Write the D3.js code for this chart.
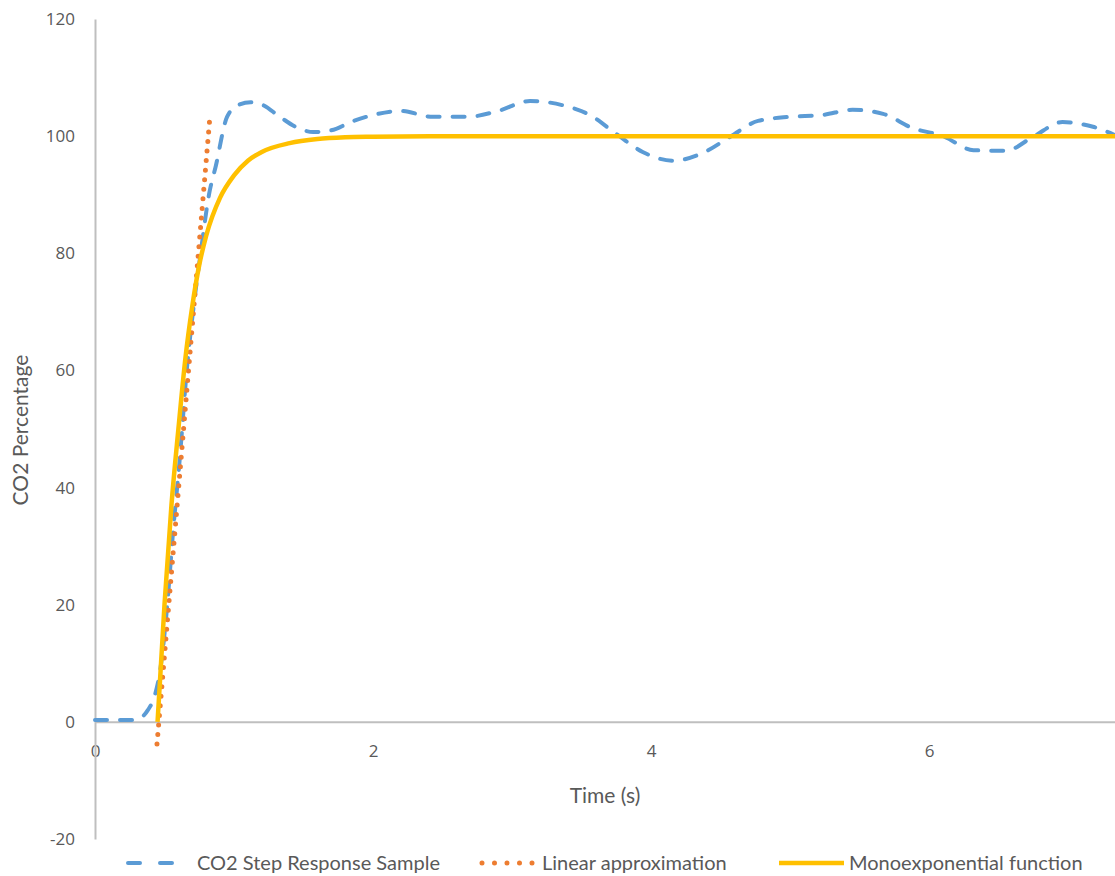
<!DOCTYPE html>
<html>
<head>
<meta charset="utf-8">
<script src="https://cdn.jsdelivr.net/npm/d3@7"></script>
<style>
  body { margin: 0; background: #fff; }
  svg { display: block; }
</style>
</head>
<body>
<script>
// measured step response (time in s, CO2 %)
let sampleTime = [0, 0.25, 0.32, 0.38, 0.43, 0.47, 0.52, 0.56, 0.61, 0.66, 0.71, 0.76, 0.82, 0.87, 0.95,
  1.03, 1.12, 1.2, 1.33, 1.45, 1.57, 1.7, 1.85, 2.0, 2.2, 2.43, 2.68, 2.9, 3.13, 3.36, 3.56, 3.76,
  3.94, 4.16, 4.37, 4.57, 4.77, 5.0, 5.23, 5.45, 5.67, 5.88, 6.1, 6.32, 6.55, 6.75, 6.96, 7.18, 7.4];
let sampleValue = [0.3, 0.3, 0.6, 2, 4.5, 9, 20, 32, 45, 60, 71, 80, 90, 95, 103.3,
  105.3, 105.8, 105.4, 103.3, 101.5, 100.7, 101, 102.5, 103.6, 104.3, 103.3, 103.3, 104.3, 106, 105.3, 103.6, 100.2,
  97.3, 95.8, 97.1, 99.9, 102.6, 103.3, 103.6, 104.5, 103.8, 101.4, 100, 97.6, 97.5, 99.9, 102.4, 101.6, 99.5];

// linear approximation (two end points)
let linearTime = [0.446, 0.827];
let linearValue = [-3.8, 103.4];

// monoexponential fit
let expTime = [0.45, 0.5, 0.55, 0.6, 0.65, 0.7, 0.75, 0.8, 0.9, 1.0, 1.1, 1.2, 1.4, 1.6, 1.8, 2.0, 2.5, 8];
let expValue = [0, 20, 37, 50, 62, 71, 78, 83, 89.5, 93.3, 95.8, 97.3, 98.8, 99.5, 99.8, 99.9, 100, 100];

let xTicks = [0, 2, 4, 6];
let yTicks = [-20, 0, 20, 40, 60, 80, 100, 120];

let seriesNames = ["CO2 Step Response Sample", "Linear approximation", "Monoexponential function"];

let w = 1115;
let h = 876;

let xScale = d3.scaleLinear()
  .domain([0, 8])
  .range([95, 95 + 8 * 139]);

let yScale = d3.scaleLinear()
  .domain([-20, 120])
  .range([839, 19]);

let svg = d3.select("body")
  .append("svg")
  .attr("width", w)
  .attr("height", h);

let toPoints = (xs, ys) => xs.map((x, i) => { return [x, ys[i]]; });

let line = d3.line()
  .x((d) => { return xScale(d[0]); })
  .y((d) => { return yScale(d[1]); });

let smooth = d3.line()
  .x((d) => { return xScale(d[0]); })
  .y((d) => { return yScale(d[1]); })
  .curve(d3.curveMonotoneX);

// axes
let yAxis = d3.axisLeft(yScale)
  .tickValues(yTicks)
  .tickFormat((d) => { return String(d); })
  .tickSize(0)
  .tickPadding(20);

let xAxis = d3.axisBottom(xScale)
  .tickValues(xTicks)
  .tickFormat((d) => { return String(d); })
  .tickSize(0)
  .tickPadding(23);

let gx = svg.append("g")
  .attr("transform", "translate(0," + yScale(0) + ")")
  .call(xAxis);

let gy = svg.append("g")
  .attr("transform", "translate(" + xScale(0) + ",0)")
  .call(yAxis);

[gx, gy].forEach((g) => {
  g.select(".domain")
    .attr("stroke", "#bfbfbf")
    .attr("stroke-width", 2);
  g.selectAll("text")
    .attr("font-family", "'Open Sans', sans-serif")
    .attr("font-size", "17px")
    .attr("fill", "#595959");
});

// series
svg.append("path")
  .datum(toPoints(sampleTime, sampleValue))
  .attr("d", smooth)
  .attr("fill", "none")
  .attr("stroke", "#5b9bd5")
  .attr("stroke-width", 4)
  .attr("stroke-linecap", "round")
  .attr("stroke-dasharray", "12 13");

svg.append("path")
  .datum(toPoints(linearTime, linearValue))
  .attr("d", line)
  .attr("fill", "none")
  .attr("stroke", "#ed7d31")
  .attr("stroke-width", 5)
  .attr("stroke-linecap", "round")
  .attr("stroke-dasharray", "0 9.6");

svg.append("path")
  .datum(toPoints(expTime, expValue))
  .attr("d", smooth)
  .attr("fill", "none")
  .attr("stroke", "#ffc000")
  .attr("stroke-width", 4.5)
  .attr("stroke-linejoin", "round");

// axis titles
svg.append("text")
  .text("Time (s)")
  .attr("x", 605)
  .attr("y", 803)
  .attr("text-anchor", "middle")
  .attr("font-family", "Lato, sans-serif")
  .attr("font-size", "21px")
  .attr("fill", "#595959");

svg.append("text")
  .text("CO2 Percentage")
  .attr("transform", "translate(28,430) rotate(-90)")
  .attr("text-anchor", "middle")
  .attr("font-family", "Lato, sans-serif")
  .attr("font-size", "21px")
  .attr("fill", "#595959");

// legend
let legendY = 863;
let legendItems = [
  { name: seriesNames[0], x1: 128, x2: 176, tx: 197, color: "#5b9bd5", width: 4, dash: "12 20", cap: "round" },
  { name: seriesNames[1], x1: 482, x2: 535, tx: 542, color: "#ed7d31", width: 5, dash: "0 12.5", cap: "round" },
  { name: seriesNames[2], x1: 779, x2: 844, tx: 849, color: "#ffc000", width: 4.5, dash: null, cap: "butt" }
];

let legend = svg.selectAll("g.legend")
  .data(legendItems)
  .enter()
  .append("g")
  .attr("class", "legend");

legend.append("line")
  .attr("x1", (d) => { return d.x1; })
  .attr("x2", (d) => { return d.x2; })
  .attr("y1", legendY)
  .attr("y2", legendY)
  .attr("stroke", (d) => { return d.color; })
  .attr("stroke-width", (d) => { return d.width; })
  .attr("stroke-linecap", (d) => { return d.cap; })
  .attr("stroke-dasharray", (d) => { return d.dash; });

legend.append("text")
  .text((d) => { return d.name; })
  .attr("x", (d) => { return d.tx; })
  .attr("y", legendY)
  .attr("dy", "0.35em")
  .attr("font-family", "Lato, sans-serif")
  .attr("font-size", "20px")
  .attr("fill", "#595959");
</script>
</body>
</html>
